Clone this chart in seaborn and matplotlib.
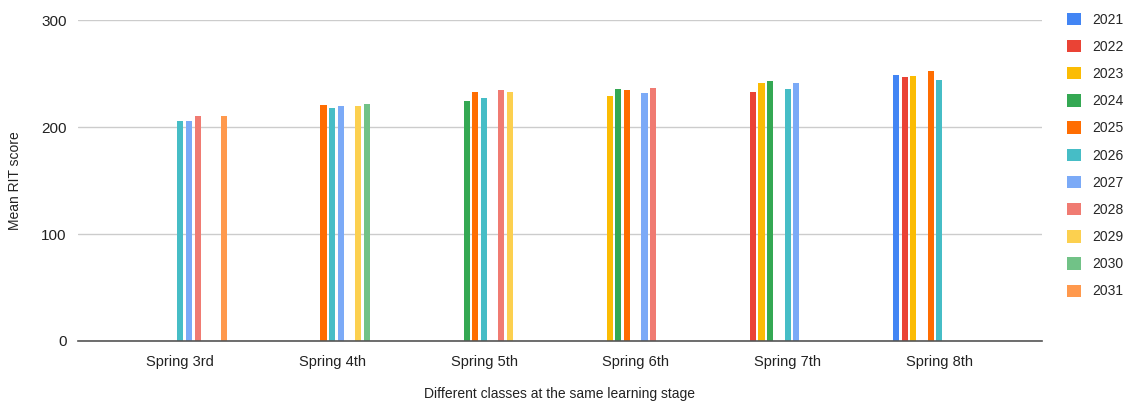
import pandas as pd
import matplotlib
matplotlib.use("Agg")
import matplotlib.pyplot as plt
import seaborn as sns
from matplotlib.patches import Patch

# Data
stages = ["Spring 3rd", "Spring 4th", "Spring 5th", "Spring 6th", "Spring 7th", "Spring 8th"]
classes = ["2021", "2022", "2023", "2024", "2025", "2026",
           "2027", "2028", "2029", "2030", "2031"]

spring_3rd = {"2026": 206, "2027": 206, "2028": 210.5, "2031": 210.5}
spring_4th = {"2025": 221, "2026": 217.5, "2027": 220, "2029": 220, "2030": 222}
spring_5th = {"2024": 224.5, "2025": 232.5, "2026": 227, "2028": 234.5, "2029": 232.5}
spring_6th = {"2023": 229.5, "2024": 236, "2025": 235, "2027": 231.5, "2028": 237}
spring_7th = {"2022": 232.5, "2023": 241, "2024": 243, "2026": 236, "2027": 241}
spring_8th = {"2021": 249, "2022": 246.5, "2023": 248, "2025": 252.5, "2026": 244}

colors = ["#4285F4", "#EA4335", "#FBBC04", "#34A853", "#FF6D01", "#46BDC6",
          "#7BAAF7", "#F07B72", "#FCD04F", "#71C287", "#FF994D"]

rows = []
for stage, vals in zip(stages, [spring_3rd, spring_4th, spring_5th,
                                spring_6th, spring_7th, spring_8th]):
    for cls, v in vals.items():
        rows.append({"stage": stage, "class": cls, "score": v})
df = pd.DataFrame(rows)

sns.set_style("white")
plt.rcParams["font.family"] = ["Liberation Sans", "DejaVu Sans"]

fig = plt.figure(figsize=(11.3, 4.04), dpi=100)
ax = fig.add_axes([0.069, 0.156, 0.853, 0.794])

sns.barplot(data=df, x="stage", y="score", hue="class",
            order=stages, hue_order=classes, palette=colors,
            width=0.63, gap=0.3, dodge=True, legend=False, ax=ax,
            linewidth=0, saturation=1)

ax.set_xlim(-0.675, 5.675)
ax.set_ylim(0, 300)
ax.set_yticks([0, 100, 200, 300])
ax.grid(axis="y", color="#cccccc", linewidth=1)
ax.set_axisbelow(True)
for s in ["top", "right", "left"]:
    ax.spines[s].set_visible(False)
ax.spines["bottom"].set_color("#555555")
ax.spines["bottom"].set_linewidth(1.2)
ax.tick_params(axis="both", length=0, colors="#222222")
ax.tick_params(axis="y", labelsize=11, pad=8)
ax.tick_params(axis="x", labelsize=10.5, pad=10)
ax.set_ylabel("Mean RIT score", fontsize=10, color="#222222", labelpad=14)
ax.set_xlabel("Different classes at the same learning stage", fontsize=10,
              color="#222222", labelpad=13)

handles = [Patch(facecolor=c, edgecolor="none", label=l) for c, l in zip(colors, classes)]
fig.legend(handles=handles, loc="upper left", bbox_to_anchor=(0.936, 0.993),
           frameon=False, fontsize=10, handlelength=1.0, handleheight=1.0,
           labelspacing=0.95, handletextpad=0.8, borderaxespad=0.3)

fig.savefig("out.png", dpi=100)
